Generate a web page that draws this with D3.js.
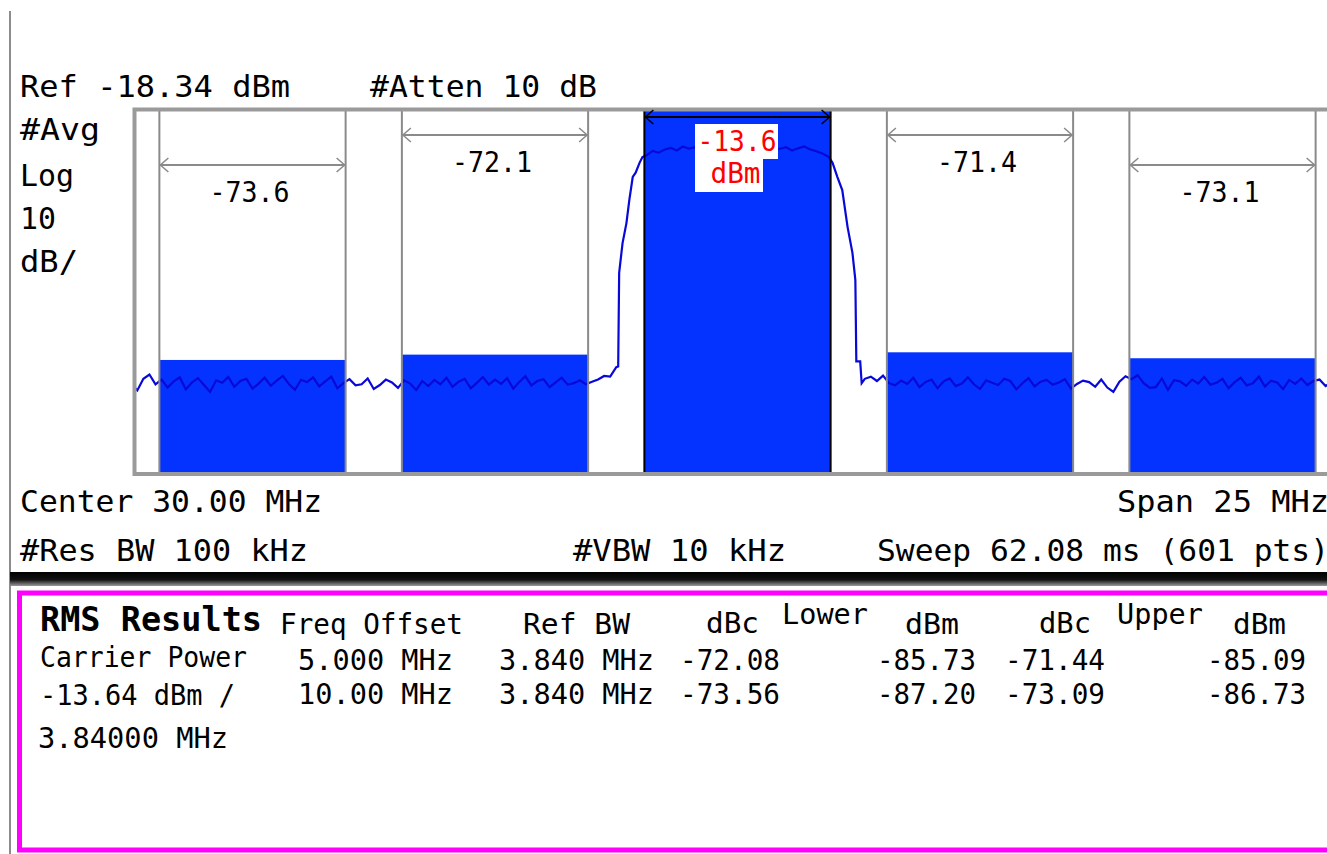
<!DOCTYPE html>
<html><head><meta charset="utf-8">
<script src="https://cdn.jsdelivr.net/npm/d3@7"></script>
<style>html,body{margin:0;padding:0;background:#fff;overflow:hidden} svg{display:block}</style>
</head><body>
<svg id="c" width="1327" height="854"></svg>
<script>
// ---------- data ----------
const refLevel = -18.34;            // dBm, top of graticule
const dbPerDiv = 10, divisions = 10;
const centerMHz = 30, spanMHz = 25;
const channelBW = 3.84;             // MHz
const channelOffsets = [-10, -5, 0, 5, 10];               // MHz
const channelPower   = [-87.20, -85.73, -13.64, -85.09, -86.73]; // dBm
const channelDbc     = [-73.56, -72.08, null, -71.44, -73.09];   // dBc
const carrierPower = -13.64;
const traceStep = 0.125;            // MHz between sampled trace values
// trace levels (dBm) read from picture
const noiseLow = [ // 17.5 .. 27.5 MHz
 -93.8,-95.6,-92.4,-91.2,-93.9,-92.6,-94.8,-93.1,-92.0,-95.3,
 -93.4,-92.2,-94.1,-96.0,-92.8,-93.5,-91.9,-94.6,-93.0,-92.4,
 -95.1,-93.7,-92.1,-94.3,-92.9,-91.6,-93.8,-95.4,-92.7,-93.3,
 -92.0,-94.5,-93.1,-91.8,-95.0,-93.6,-92.5,-94.2,-93.9,-92.3,
 -95.2,-94.1,-92.6,-93.4,-94.9,-92.8,-93.7,-95.5,-93.0,-94.4,
 -92.7,-93.9,-92.1,-94.6,-93.2,-92.4,-95.0,-93.5,-91.9,-94.0,
 -92.6,-93.8,-92.2,-95.1,-93.3,-91.7,-94.2,-93.0,-92.5,-94.7,
 -93.4,-92.1,-94.0,-93.6,-92.8,-93.9,-93.2,-92.6,-91.6,-91.8,
 -89.2
];
const skirtLeft = [[27.54,-89.0],[27.56,-63.2],[27.63,-55.0],[27.71,-49.5],[27.77,-43.1],
                   [27.84,-36.8],[27.90,-35.6],[27.98,-32.9],[28.04,-31.3]];
const carrierTop = [ // 28.125 .. 31.875 MHz
 -30.8,-29.6,-30.1,-29.2,-28.8,-29.5,-28.4,-29.0,-28.6,-29.3,
 -28.9,-29.4,-28.7,-29.1,-29.6,-28.8,-29.2,-28.5,-29.0,-29.4,
 -28.7,-29.3,-29.0,-28.6,-29.5,-28.9,-28.4,-29.2,-29.7,-30.3,
 -31.2
];
const skirtRight = [[31.96,-32.9],[32.06,-36.8],[32.16,-40.4],[32.27,-50.6],[32.37,-57.7],
                    [32.43,-65.2],[32.45,-87.6],[32.53,-87.6],[32.56,-93.6]];
const noiseHigh = [ // 32.625 .. 42.5 MHz
 -92.4,-91.8,-93.0,-91.5,-93.6,-94.2,-92.9,-93.8,-92.1,-94.7,
 -93.3,-92.6,-95.0,-93.1,-92.3,-94.4,-93.7,-92.0,-93.9,-95.2,
 -92.8,-93.5,-94.1,-92.4,-93.0,-95.3,-93.6,-92.2,-94.5,-93.2,
 -92.7,-94.0,-93.4,-92.5,-95.1,-93.8,-92.9,-93.3,-94.6,-92.6,
 -94.8,-96.0,-93.2,-91.7,-92.5,-91.4,-93.6,-94.9,-94.7,-92.3,
 -95.4,-92.8,-93.1,-94.3,-92.6,-93.7,-91.9,-94.0,-93.5,-92.4,
 -95.0,-93.3,-92.1,-94.2,-93.6,-91.8,-94.5,-92.9,-93.4,-95.2,
 -92.7,-93.8,-92.3,-94.1,-93.0,-92.6,-94.4,-93.2,-92.0,-93.7
];
// results table
const tableFreqOffset = ["5.000 MHz", "10.00 MHz"];
const tableRefBW      = ["3.840 MHz", "3.840 MHz"];
const tableLowerDbc   = ["-72.08", "-73.56"];
const tableLowerDbm   = ["-85.73", "-87.20"];
const tableUpperDbc   = ["-71.44", "-73.09"];
const tableUpperDbm   = ["-85.09", "-86.73"];

// ---------- drawing ----------
const svg = d3.select("#c");
const FONT = "'DejaVu Sans Mono', 'Liberation Mono', monospace";
const GRAY = "#9a9a9a";
const BLUE = "#0433ff";

const plotTop = 110, plotBottom = 473, plotLeft = 135;
const x = d3.scaleLinear()
  .domain([centerMHz - spanMHz/2, centerMHz + spanMHz/2])
  .range([737.5 - 606.25, 737.5 + 606.25]);
const y = d3.scaleLinear()
  .domain([refLevel - dbPerDiv*divisions, refLevel])
  .range([plotBottom, plotTop]);

function txt(s, tx, ty, size, w, opt = {}) {
  const t = svg.append("text").attr("x", tx).attr("y", ty)
    .attr("font-family", FONT).attr("font-size", size)
    .attr("fill", opt.fill || "#000")
    .attr("font-weight", opt.bold ? "bold" : "normal")
    .attr("text-anchor", opt.anchor || "start")
    .text(s);
  if (w) t.attr("textLength", w).attr("lengthAdjust", "spacingAndGlyphs");
  return t;
}

// left border line
svg.append("line").attr("x1", 10).attr("x2", 10).attr("y1", 11).attr("y2", 854)
  .attr("stroke", "#8c8c8c").attr("stroke-width", 2);

// header texts
txt("Ref -18.34 dBm", 20, 97, 30, 270);
txt("#Atten 10 dB", 370, 97, 30, 227);
txt("#Avg", 20, 140, 30, 80);
txt("Log", 20, 186, 30, 54);
txt("10", 20, 229, 30, 36);
txt("dB/", 20, 272, 30, 58);

// clip for plot
svg.append("defs").append("clipPath").attr("id", "plotclip")
  .append("rect").attr("x", plotLeft).attr("y", plotTop)
  .attr("width", 1350 - plotLeft).attr("height", plotBottom - plotTop);

const plot = svg.append("g").attr("clip-path", "url(#plotclip)");

const channels = channelOffsets.map((o, i) => ({
  f0: centerMHz + o, off: o, p: channelPower[i], dbc: channelDbc[i]
}));

// channel bars
plot.selectAll("rect.bar").data(channels).enter().append("rect")
  .attr("class", "bar")
  .attr("x", d => x(d.f0 - channelBW/2))
  .attr("width", d => x(d.f0 + channelBW/2) - x(d.f0 - channelBW/2))
  .attr("y", d => y(Math.min(d.p, refLevel)))
  .attr("height", d => plotBottom - y(Math.min(d.p, refLevel)))
  .attr("fill", BLUE);

// trace
const trace = [];
noiseLow.forEach((v, i) => trace.push([17.5 + i*traceStep, v]));
skirtLeft.forEach(p => trace.push(p));
carrierTop.forEach((v, i) => trace.push([28.125 + i*traceStep, v]));
skirtRight.forEach(p => trace.push(p));
noiseHigh.forEach((v, i) => trace.push([32.625 + i*traceStep, v]));

plot.append("path").datum(trace)
  .attr("d", d3.line().x(d => x(d[0])).y(d => y(d[1])))
  .attr("fill", "none").attr("stroke", "#0808d8").attr("stroke-width", 2.2)
  .attr("stroke-linejoin", "miter");

// window edge lines
channels.forEach(d => {
  [d.f0 - channelBW/2, d.f0 + channelBW/2].forEach(f => {
    plot.append("line").attr("x1", x(f)).attr("x2", x(f))
      .attr("y1", plotTop).attr("y2", plotBottom)
      .attr("stroke", d.off === 0 ? "#000" : "#8a8a8a").attr("stroke-width", 2);
  });
});

// frame
svg.append("rect").attr("x", plotLeft - 0.5).attr("y", plotTop - 0.5)
  .attr("width", 1400).attr("height", plotBottom - plotTop + 1.5)
  .attr("fill", "none").attr("stroke", GRAY).attr("stroke-width", 4);

// arrows & labels
channels.forEach(d => {
  const a = Math.abs(d.off);
  const ay = a === 0 ? 117 : (a === 5 ? 135 : 165);
  const x1 = x(d.f0 - channelBW/2) + 1, x2 = x(d.f0 + channelBW/2) - 1;
  const col = d.off === 0 ? "#000" : "#8a8a8a";
  const g = svg.append("g").attr("stroke", col).attr("fill", "none").attr("stroke-width", 2);
  g.append("line").attr("x1", x1).attr("x2", x2).attr("y1", ay).attr("y2", ay);
  g.append("path").attr("d", `M${x1+8},${ay-7} L${x1},${ay} L${x1+8},${ay+7}`).attr("stroke-width", 1.5);
  g.append("path").attr("d", `M${x2-8},${ay-7} L${x2},${ay} L${x2-8},${ay+7}`).attr("stroke-width", 1.5);
  if (d.off !== 0) {
    txt(d.dbc.toFixed(1), x(d.f0) - 3, ay + 37, 28, 80, {anchor: "middle"});
  }
});

// carrier label
const cx = x(centerMHz);
svg.append("rect").attr("x", cx - 42.5).attr("y", 124).attr("width", 83).attr("height", 35).attr("fill", "#fff");
svg.append("rect").attr("x", cx - 42.5).attr("y", 158).attr("width", 68).attr("height", 34).attr("fill", "#fff");
txt(carrierPower.toFixed(1), cx - 0.5, 151, 28, 79, {anchor: "middle", fill: "#ff0000"});
txt("dBm", cx - 2, 183, 28, 50, {anchor: "middle", fill: "#ff0000"});

// bottom annotation
txt("Center 30.00 MHz", 20, 512, 30, 302);
txt("Span 25 MHz", 1117, 512, 30, 212);
txt("#Res BW 100 kHz", 20, 561, 30, 288);
txt("#VBW 10 kHz", 573, 561, 30, 213);
txt("Sweep 62.08 ms (601 pts)", 877, 561, 30, 452);

// separator
const grad = svg.select("defs").append("linearGradient").attr("id", "sep")
  .attr("x1", 0).attr("x2", 0).attr("y1", 0).attr("y2", 1);
grad.append("stop").attr("offset", "0%").attr("stop-color", "#000");
grad.append("stop").attr("offset", "55%").attr("stop-color", "#111");
grad.append("stop").attr("offset", "100%").attr("stop-color", "#9a9a9a");
svg.append("rect").attr("x", 10).attr("y", 572).attr("width", 1320).attr("height", 14).attr("fill", "url(#sep)");

// results box
svg.append("rect").attr("x", 19.5).attr("y", 593).attr("width", 1400).attr("height", 257)
  .attr("fill", "none").attr("stroke", "#ff00ff").attr("stroke-width", 5);

txt("RMS Results", 40, 631, 34, 222, {bold: true});
txt("Freq Offset", 280, 634, 29, 183);
txt("Ref BW", 523, 634, 29, 107);
txt("dBc", 706, 633, 29, 53);
txt("Lower", 782, 624, 29, 86);
txt("dBm", 905, 634, 29, 54);
txt("dBc", 1039, 633, 29, 52);
txt("Upper", 1117, 624, 29, 86);
txt("dBm", 1233, 634, 29, 53);

txt("Carrier Power", 40, 667, 29, 207);
txt("-13.64 dBm /", 40, 705, 29, 195);
txt("3.84000 MHz", 38, 748, 29, 190);

const rowY = [670, 704];
tableFreqOffset.forEach((s, i) => txt(s, 453, rowY[i], 29, 155, {anchor: "end"}));
tableRefBW.forEach((s, i) => txt(s, 654, rowY[i], 29, 155, {anchor: "end"}));
tableLowerDbc.forEach((s, i) => txt(s, 780, rowY[i], 29, 100, {anchor: "end"}));
tableLowerDbm.forEach((s, i) => txt(s, 976, rowY[i], 29, 99, {anchor: "end"}));
tableUpperDbc.forEach((s, i) => txt(s, 1105, rowY[i], 29, 100, {anchor: "end"}));
tableUpperDbm.forEach((s, i) => txt(s, 1306, rowY[i], 29, 99, {anchor: "end"}));
</script>
</body></html>
